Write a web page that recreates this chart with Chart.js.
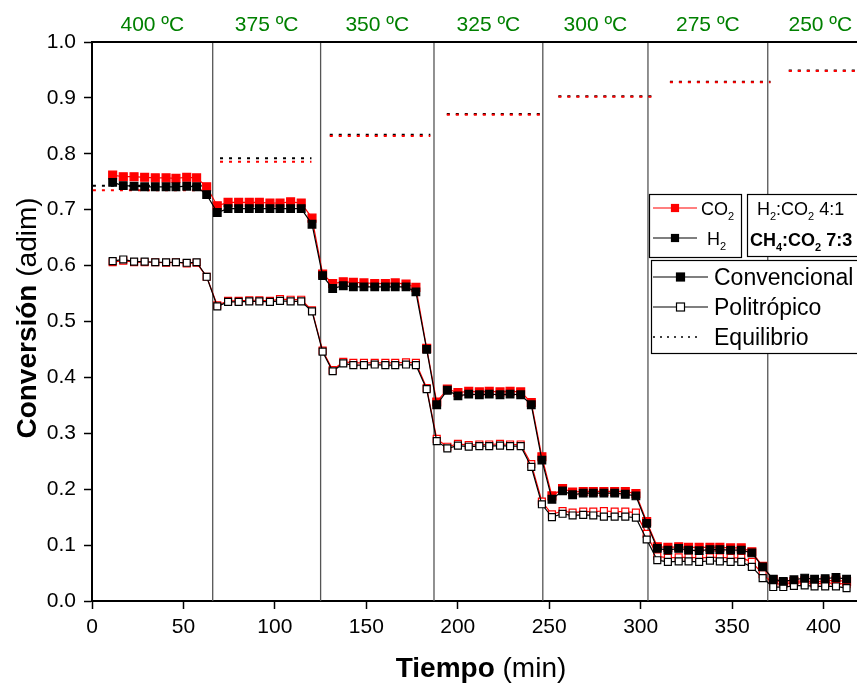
<!DOCTYPE html>
<html>
<head>
<meta charset="utf-8">
<script src="https://cdn.jsdelivr.net/npm/chart.js@4.4.1/dist/chart.umd.min.js"></script>
<style>
  html, body { margin: 0; padding: 0; background: #fff; }
  #wrap { width: 857px; height: 683px; }
</style>
</head>
<body>
<div id="wrap"><canvas id="grafico" width="857" height="683"></canvas></div>
<script>
// ===============================
// Datos
// ===============================
// tiempo de cada medida (min)
const tiempo = [
  11.3, 17.1, 23.0, 28.8, 34.6, 40.5, 45.9, 51.8, 57.2, 62.7,
  68.5, 74.4, 80.2, 86.0, 91.5, 97.3, 102.8, 108.6, 114.4, 120.3,
  126.1, 131.6, 137.4, 142.9, 148.7, 154.6, 160.4, 165.8, 171.7, 177.1,
  183.0, 188.5, 194.3, 200.1, 206.0, 211.8, 217.2, 223.1, 228.6, 234.4,
  240.2, 246.0, 251.5, 257.3, 262.8, 268.6, 274.1, 279.9, 285.8, 291.6,
  297.4, 303.3, 309.1, 314.9, 320.8, 326.2, 332.0, 337.9, 343.3, 349.2,
  355.0, 360.8, 366.7, 372.5, 378.0, 383.8, 389.7, 395.1, 400.9, 406.8,
  412.6
];

// reactor convencional
const convCO2 = [
  0.762, 0.759, 0.759, 0.758, 0.757, 0.757, 0.756, 0.758, 0.757, 0.741,
  0.707, 0.713, 0.713, 0.713, 0.713, 0.712, 0.712, 0.714, 0.712, 0.685,
  0.585, 0.568, 0.571, 0.570, 0.569, 0.568, 0.568, 0.569, 0.567, 0.561,
  0.452, 0.356, 0.379, 0.373, 0.375, 0.374, 0.375, 0.374, 0.375, 0.374,
  0.355, 0.258, 0.188, 0.201, 0.195, 0.196, 0.196, 0.196, 0.196, 0.196,
  0.192, 0.142, 0.097, 0.096, 0.097, 0.096, 0.096, 0.096, 0.096, 0.095,
  0.095, 0.088, 0.062, 0.038, 0.033, 0.035, 0.036, 0.034, 0.036, 0.037,
  0.035
];
const convH2 = [
  0.749, 0.743, 0.742, 0.741, 0.741, 0.741, 0.741, 0.742, 0.741, 0.727,
  0.695, 0.702, 0.702, 0.702, 0.702, 0.702, 0.702, 0.702, 0.702, 0.674,
  0.582, 0.559, 0.564, 0.562, 0.562, 0.562, 0.562, 0.562, 0.562, 0.553,
  0.450, 0.351, 0.377, 0.367, 0.370, 0.369, 0.370, 0.369, 0.370, 0.369,
  0.351, 0.252, 0.182, 0.197, 0.190, 0.193, 0.193, 0.193, 0.193, 0.191,
  0.188, 0.139, 0.094, 0.091, 0.094, 0.091, 0.090, 0.092, 0.092, 0.091,
  0.091, 0.086, 0.061, 0.039, 0.035, 0.038, 0.041, 0.039, 0.040, 0.042,
  0.039
];

// reactor politrópico
const politCO2 = [
  0.606, 0.609, 0.606, 0.606, 0.606, 0.605, 0.606, 0.604, 0.605, 0.580,
  0.529, 0.537, 0.537, 0.538, 0.538, 0.537, 0.540, 0.539, 0.539, 0.520,
  0.448, 0.413, 0.428, 0.426, 0.426, 0.426, 0.426, 0.426, 0.427, 0.426,
  0.381, 0.290, 0.276, 0.281, 0.279, 0.280, 0.280, 0.281, 0.280, 0.280,
  0.245, 0.178, 0.155, 0.161, 0.158, 0.160, 0.160, 0.161, 0.160, 0.160,
  0.158, 0.120, 0.080, 0.077, 0.078, 0.078, 0.077, 0.078, 0.078, 0.077,
  0.077, 0.070, 0.048, 0.031, 0.030, 0.032, 0.033, 0.031, 0.032, 0.032,
  0.030
];
const politH2 = [
  0.608, 0.611, 0.607, 0.607, 0.606, 0.606, 0.606, 0.605, 0.606, 0.580,
  0.527, 0.535, 0.535, 0.536, 0.536, 0.535, 0.537, 0.536, 0.536, 0.518,
  0.446, 0.411, 0.425, 0.422, 0.422, 0.423, 0.422, 0.422, 0.423, 0.422,
  0.379, 0.286, 0.273, 0.278, 0.276, 0.277, 0.277, 0.278, 0.277, 0.277,
  0.240, 0.173, 0.150, 0.156, 0.153, 0.154, 0.153, 0.151, 0.151, 0.151,
  0.149, 0.110, 0.073, 0.070, 0.071, 0.071, 0.070, 0.072, 0.071, 0.070,
  0.070, 0.061, 0.041, 0.025, 0.025, 0.027, 0.028, 0.026, 0.026, 0.026,
  0.023
];

// equilibrio termodinámico en cada escalón de temperatura
const eqInicio = [0.5, 70, 130, 194, 255, 316, 381];
const eqFin = [60, 120, 185, 246, 306, 371, 418];
const eqCO2 = [0.735, 0.786, 0.832, 0.870, 0.902, 0.928, 0.948];
const eqH2 = [0.743, 0.792, 0.834, 0.871, 0.903, 0.929, 0.949];

// cambios de temperatura (min) y temperaturas de cada escalón
const cambios = [66, 125, 187, 246.5, 304, 369.5];
const temperaturas = ["400 ºC", "375 ºC", "350 ºC", "325 ºC", "300 ºC", "275 ºC", "250 ºC"];

// ejes
const xMax = 418.3;
const xTicks = [0, 50, 100, 150, 200, 250, 300, 350, 400];
const yTicks = [0, 0.1, 0.2, 0.3, 0.4, 0.5, 0.6, 0.7, 0.8, 0.9, 1.0];

const FUENTE = '"Liberation Sans", Arial, sans-serif';
const ROJO = "#ff0000";
const VERDE = "#008000";

// ===============================
// Series
// ===============================
function puntos(valores) {
  return tiempo.map((t, i) => ({ x: t, y: valores[i] }));
}

function tramos(valores) {
  const out = [];
  valores.forEach((v, i) => {
    out.push({ x: eqInicio[i], y: v });
    out.push({ x: eqFin[i], y: v });
    out.push({ x: eqFin[i], y: null });
  });
  return out;
}

function serie(label, valores, color, relleno, radio, orden) {
  return {
    label: label,
    data: puntos(valores),
    borderColor: color,
    borderWidth: 1.2,
    pointStyle: "rect",
    pointRadius: radio,
    pointBackgroundColor: relleno,
    pointBorderColor: color,
    pointBorderWidth: 1.2,
    tension: 0,
    order: orden
  };
}

function equilibrio(label, valores, color, orden) {
  return {
    label: label,
    data: tramos(valores),
    borderColor: color,
    borderWidth: 2,
    borderDash: [3, 6],
    pointRadius: 0,
    spanGaps: false,
    order: orden
  };
}

// ===============================
// Texto con subíndices ("H_2" -> H₂)
// ===============================
function texto(ctx, cadena, x, y, size, bold) {
  const partes = cadena.split(/(_\d)/).filter(p => p.length);
  let cx = x;
  for (const p of partes) {
    const sub = p[0] === "_";
    const t = sub ? p.slice(1) : p;
    const s = sub ? Math.round(size * 0.62) : size;
    ctx.font = (bold ? "bold " : "") + s + "px " + FUENTE;
    ctx.fillText(t, cx, sub ? y + size * 0.28 : y);
    cx += ctx.measureText(t).width;
  }
  return cx;
}

// título con una parte en negrita y otra normal, centrado en (0, 0)
function tituloMixto(ctx, negrita, normal, size) {
  ctx.font = "bold " + size + "px " + FUENTE;
  const wB = ctx.measureText(negrita).width;
  ctx.font = size + "px " + FUENTE;
  const wR = ctx.measureText(normal).width;
  const x0 = -(wB + wR) / 2;
  ctx.font = "bold " + size + "px " + FUENTE;
  ctx.fillText(negrita, x0, 0);
  ctx.font = size + "px " + FUENTE;
  ctx.fillText(normal, x0 + wB, 0);
}

// ===============================
// Decoración: separadores, temperaturas, títulos, leyendas
// ===============================
const decoracion = {
  id: "decoracion",
  beforeDatasetsDraw(chart) {
    const { ctx, chartArea, scales } = chart;
    ctx.save();
    ctx.strokeStyle = "#555";
    ctx.lineWidth = 1.3;
    for (const c of cambios) {
      const x = scales.x.getPixelForValue(c);
      ctx.beginPath();
      ctx.moveTo(x, chartArea.top);
      ctx.lineTo(x, chartArea.bottom);
      ctx.stroke();
    }
    ctx.restore();
  },
  afterDraw(chart) {
    const { ctx, chartArea, scales } = chart;
    ctx.save();

    // borde superior
    ctx.strokeStyle = "#000";
    ctx.lineWidth = 2;
    ctx.beginPath();
    ctx.moveTo(chartArea.left, chartArea.top);
    ctx.lineTo(chartArea.right, chartArea.top);
    ctx.stroke();

    // temperaturas
    const bordes = [0, ...cambios, 427];
    ctx.fillStyle = VERDE;
    ctx.font = "21px " + FUENTE;
    ctx.textAlign = "center";
    ctx.textBaseline = "middle";
    temperaturas.forEach((t, i) => {
      const x = scales.x.getPixelForValue((bordes[i] + bordes[i + 1]) / 2);
      ctx.fillText(t, x, 25);
    });

    // títulos de ejes
    ctx.fillStyle = "#000";
    ctx.textBaseline = "alphabetic";
    ctx.textAlign = "left";
    ctx.save();
    ctx.translate(481, 677);
    tituloMixto(ctx, "Tiempo", " (min)", 28);
    ctx.restore();

    ctx.save();
    ctx.translate(36, 318);
    ctx.rotate(-Math.PI / 2);
    tituloMixto(ctx, "Conversión", " (adim)", 28);
    ctx.restore();

    // cajas de leyenda
    ctx.fillStyle = "#fff";
    ctx.strokeStyle = "#000";
    ctx.lineWidth = 1.2;
    [[649.5, 194.5, 92, 63], [747.5, 194.5, 120, 62], [651.5, 260.5, 215, 93]].forEach(b => {
      ctx.fillRect(b[0], b[1], b[2], b[3]);
      ctx.strokeRect(b[0], b[1], b[2], b[3]);
    });

    const muestra = (x1, x2, y, color, relleno, lado, punteada) => {
      ctx.strokeStyle = color;
      ctx.lineWidth = punteada ? 1.5 : 1.2;
      ctx.setLineDash(punteada ? [2, 5] : []);
      ctx.beginPath();
      ctx.moveTo(x1, y);
      ctx.lineTo(x2, y);
      ctx.stroke();
      ctx.setLineDash([]);
      if (lado) {
        const cx = (x1 + x2) / 2;
        ctx.fillStyle = relleno;
        ctx.fillRect(cx - lado / 2, y - lado / 2, lado, lado);
        ctx.strokeRect(cx - lado / 2, y - lado / 2, lado, lado);
      }
    };

    // gases
    muestra(653, 697, 208, ROJO, ROJO, 7);
    muestra(653, 697, 238, "#000", "#000", 7);
    ctx.fillStyle = "#000";
    texto(ctx, "CO_2", 701, 215, 18, false);
    texto(ctx, "H_2", 707, 245, 18, false);

    // alimentaciones
    texto(ctx, "H_2:CO_2 4:1", 757, 215, 18, false);
    texto(ctx, "CH_4:CO_2 7:3", 750, 246, 18, true);

    // reactores
    muestra(653, 708, 277, "#000", "#000", 8);
    muestra(653, 708, 307, "#000", "#fff", 8);
    muestra(653, 700, 337, "#000", null, 0, true);
    ctx.fillStyle = "#000";
    texto(ctx, "Convencional", 714, 285, 23, false);
    texto(ctx, "Politrópico", 714, 315, 23, false);
    texto(ctx, "Equilibrio", 714, 345, 23, false);

    ctx.restore();
  }
};

// sin márgenes extra que reserva la escala para sus etiquetas extremas
function sinRelleno(s) {
  s.paddingLeft = 0;
  s.paddingRight = 0;
  s.paddingTop = 0;
  s.paddingBottom = 0;
}

// ===============================
// Gráfico
// ===============================
const grafico = new Chart(document.getElementById("grafico"), {
  type: "line",
  data: {
    datasets: [
      serie("H2 convencional", convH2, "#000", "#000", 5.4, 1),
      serie("H2 politrópico", politH2, "#000", "#fff", 4.9, 2),
      serie("CO2 convencional", convCO2, ROJO, ROJO, 5.6, 3),
      serie("CO2 politrópico", politCO2, ROJO, "#fff", 4.9, 4),
      equilibrio("H2 equilibrio", eqH2, "#000", 6),
      equilibrio("CO2 equilibrio", eqCO2, ROJO, 5)
    ]
  },
  options: {
    responsive: false,
    devicePixelRatio: 1,
    animation: false,
    layout: { autoPadding: false, padding: { top: 42, left: 0, right: 0, bottom: 0 } },
    plugins: {
      legend: { display: false },
      tooltip: { enabled: false }
    },
    scales: {
      x: {
        type: "linear",
        min: 0,
        max: xMax,
        afterBuildTicks: s => { s.ticks = xTicks.map(v => ({ value: v })); },
        afterFit: s => { s.height = 82; sinRelleno(s); },
        grid: { drawOnChartArea: false, drawTicks: true, tickLength: 8, tickColor: "#000", tickWidth: 1.5 },
        border: { display: true, color: "#000", width: 2 },
        ticks: {
          color: "#000",
          padding: 6,
          maxRotation: 0,
          font: { family: FUENTE, size: 21 }
        }
      },
      y: {
        min: 0,
        max: 1,
        afterBuildTicks: s => { s.ticks = yTicks.map(v => ({ value: v })); },
        afterFit: s => { s.width = 92; sinRelleno(s); },
        grid: { drawOnChartArea: false, drawTicks: true, tickLength: 8, tickColor: "#000", tickWidth: 1.5 },
        border: { display: true, color: "#000", width: 2 },
        ticks: {
          color: "#000",
          padding: 8,
          font: { family: FUENTE, size: 21 },
          callback: v => v.toFixed(1)
        }
      }
    }
  },
  plugins: [decoracion]
});
</script>
</body>
</html>
